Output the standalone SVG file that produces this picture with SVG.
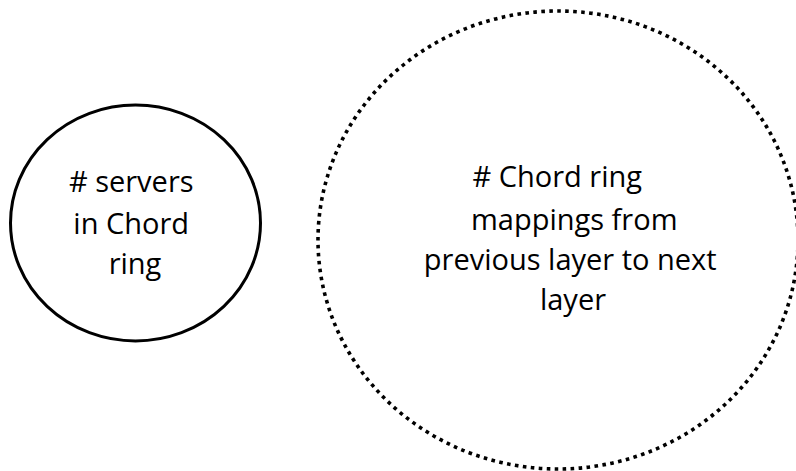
<svg xmlns="http://www.w3.org/2000/svg" width="796" height="471" viewBox="0 0 796 471">
<style>
.lbl{font-family:"Open Sans","Noto Sans","Liberation Sans",sans-serif;font-size:29px;fill:#000;text-anchor:middle}
.solid{fill:#fff;stroke:#000;stroke-width:3}
.dotted{fill:none;stroke:#000;stroke-width:3.6;stroke-dasharray:3.6 4.4}
</style>
<rect width="796" height="471" fill="#fff"/>
<g id="servers">
<ellipse class="solid" cx="135.5" cy="223" rx="125" ry="118"/>
<text class="lbl" x="135" y="192">
<tspan x="135" y="192"># servers</tspan>
<tspan x="135" y="234">in Chord</tspan>
<tspan x="135" y="274">ring</tspan>
</text>
</g>
<g id="mappings">
<ellipse class="dotted" cx="558" cy="240" rx="240" ry="229"/>
<text class="lbl" x="561" y="187">
<tspan x="561" y="187"># Chord ring</tspan>
<tspan x="578" y="230">mappings from</tspan>
<tspan x="574" y="270">previous layer to next</tspan>
<tspan x="573" y="310">layer</tspan>
</text>
</g>
<g id="connectors"></g>
</svg>
